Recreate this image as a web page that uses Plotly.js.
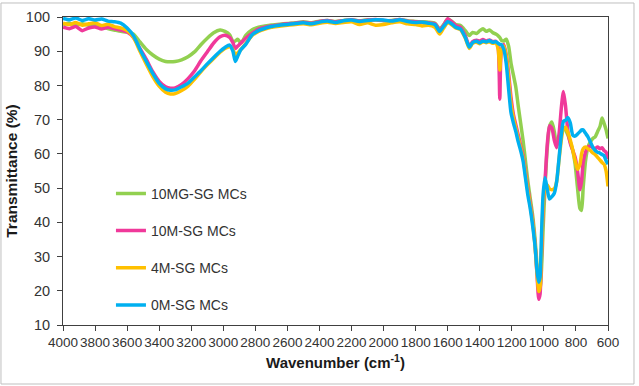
<!DOCTYPE html>
<html>
<head>
<meta charset="utf-8">
<script src="https://cdn.plot.ly/plotly-3.0.1.min.js"></script>
<style>
  html, body { margin: 0; padding: 0; background: #ffffff; }
  #chart { width: 639px; height: 386px; }
</style>
</head>
<body>
<div id="chart"></div>
<script>
// FTIR spectra of the SG microcapsule samples (wavenumber in cm-1, transmittance in %)
const wavenumber = [
  4000, 3960, 3920, 3880, 3840, 3800, 3760, 3720, 3680, 3640,
  3600, 3560, 3520, 3480, 3440, 3400, 3360, 3330, 3300, 3260,
  3220, 3180, 3140, 3100, 3060, 3020, 2990, 2960, 2940, 2925,
  2910, 2890, 2860, 2820, 2780, 2740, 2700, 2650, 2600, 2550,
  2500, 2450, 2400, 2350, 2300, 2250, 2200, 2150, 2100, 2050,
  2000, 1950, 1900, 1850, 1800, 1760, 1720, 1680, 1650, 1625,
  1600, 1580, 1550, 1520, 1490, 1465, 1445, 1420, 1400, 1380,
  1360, 1340, 1320, 1300, 1285, 1275, 1265, 1250, 1235, 1220,
  1205, 1190, 1175, 1160, 1145, 1130, 1115, 1100, 1085, 1070,
  1055, 1042, 1032, 1024, 1015, 1005, 993, 980, 965, 950,
  935, 920, 905, 890, 878, 865, 850, 835, 820, 805,
  790, 775, 765, 755, 740, 725, 710, 695, 680, 665,
  650, 637, 625, 612, 600
];

const mg10 = [
  97.8, 98.2, 97.5, 98.0, 97.6, 97.9, 97.2, 96.6, 96.2, 95.8,
  95.6, 95.0, 92.7, 90.5, 88.9, 87.7, 87.0, 86.9, 87.0, 87.5,
  88.4, 89.8, 91.9, 93.8, 95.4, 96.2, 95.8, 94.8, 92.8, 93.0,
  93.5, 92.4, 94.6, 96.3, 97.0, 97.4, 97.7, 97.9, 98.1, 98.3,
  98.6, 98.3, 98.8, 99.0, 98.7, 99.0, 99.2, 98.9, 99.2, 99.1,
  98.9, 99.0, 99.3, 98.9, 98.7, 98.6, 98.5, 98.2, 96.5, 97.8,
  99.4, 98.9, 97.8, 97.5, 96.0, 94.6, 95.5, 95.2, 96.0, 96.6,
  95.8, 96.2, 95.5, 95.0, 94.5, 94.0, 93.2, 93.0, 93.5, 91.5,
  86.5, 83.0, 79.5, 74.0, 69.0, 64.0, 58.0, 52.0, 47.0, 42.0,
  35.0, 27.0, 21.5, 20.5, 26.0, 38.0, 50.0, 61.0, 68.0, 69.3,
  66.5, 62.5, 64.0, 66.5, 67.5, 67.0, 65.5, 63.5, 61.0, 57.0,
  50.0, 44.0, 43.5, 50.0, 58.0, 62.0, 63.5, 64.5, 65.0, 66.5,
  68.0, 70.5, 69.0, 67.0, 64.5
];

const m10 = [
  97.0, 96.6, 97.2, 96.0, 96.8, 97.1, 96.5, 97.0, 96.6, 96.2,
  95.6, 94.0, 90.8, 87.6, 84.0, 81.2, 79.6, 79.2, 79.3, 80.3,
  82.0, 84.2, 87.2, 89.8, 92.4, 94.2, 94.7, 94.0, 92.5, 90.8,
  91.5, 92.4, 93.8, 95.3, 96.5, 97.0, 97.4, 97.7, 98.0, 98.2,
  98.5, 98.2, 98.7, 99.0, 98.6, 98.9, 99.2, 98.8, 99.1, 99.3,
  99.0, 98.9, 99.3, 98.8, 98.6, 98.4, 98.3, 98.0, 96.3, 97.6,
  99.5, 98.8, 97.5, 97.0, 94.5, 91.5, 92.8, 93.2, 93.0, 93.4,
  93.0, 93.3, 92.8, 92.9, 91.0, 76.0, 90.5, 92.0, 89.0, 83.5,
  76.5, 71.5, 68.5, 65.5, 62.5, 59.5, 55.0, 50.0, 45.5, 40.5,
  33.5, 24.0, 17.5, 19.0, 30.0, 44.0, 52.0, 62.0, 68.2, 67.5,
  64.0, 61.8, 66.0, 74.0, 78.2, 74.0, 66.5, 63.0, 61.0, 59.0,
  55.0, 49.5, 52.0, 57.5, 60.5, 62.0, 62.3, 61.8, 61.5, 62.0,
  61.5, 61.8, 61.0, 60.5, 58.5
];

const m4 = [
  98.2, 97.8, 98.4, 97.6, 98.0, 98.3, 97.5, 97.9, 97.2, 96.8,
  96.0, 94.0, 90.0, 86.2, 82.6, 79.8, 78.0, 77.5, 77.6, 78.5,
  79.8, 81.8, 84.0, 86.0, 87.9, 89.7, 90.8, 91.3, 90.5, 89.0,
  89.5, 90.5, 92.2, 94.6, 95.8, 96.5, 97.0, 97.3, 97.6, 97.8,
  98.0, 97.7, 98.2, 98.5, 98.1, 98.4, 98.6, 97.8, 98.3, 97.6,
  97.8, 98.3, 98.6, 98.0, 97.8, 97.4, 97.6, 97.0, 95.0, 96.8,
  98.3, 97.9, 96.8, 96.3, 93.8, 90.8, 92.3, 92.6, 92.2, 92.8,
  92.5, 92.8, 92.3, 92.5, 90.5, 84.5, 90.5, 91.5, 88.5, 82.0,
  74.5, 70.5, 67.5, 64.5, 61.8, 58.8, 54.2, 49.2, 44.8, 40.0,
  33.0, 24.5, 19.8, 21.0, 32.0, 45.0, 50.5, 51.0, 49.8, 49.5,
  49.8, 52.0, 58.5, 64.5, 67.5, 67.8, 66.2, 64.0, 61.2, 58.0,
  55.5, 57.0, 60.0, 61.5, 62.0, 61.5, 61.0, 60.3, 59.8, 59.0,
  58.2, 57.5, 57.0, 55.0, 50.5
];

const m0 = [
  99.6, 99.2, 99.7, 99.0, 99.5, 99.1, 99.4, 98.8, 98.6, 98.2,
  96.8, 94.5, 90.6, 87.0, 83.5, 80.6, 79.0, 78.6, 78.7, 79.6,
  80.7, 82.5, 84.3, 86.3, 88.2, 90.0, 91.1, 91.8, 90.0, 87.0,
  88.5, 90.5, 92.0, 94.8, 96.0, 96.7, 97.2, 97.6, 97.8, 98.1,
  98.3, 98.0, 98.5, 98.8, 98.4, 98.9, 99.1, 98.7, 99.0, 99.2,
  99.1, 98.8, 99.2, 98.7, 98.4, 98.5, 98.2, 97.8, 95.8, 97.3,
  98.6, 98.2, 97.0, 96.5, 94.0, 91.2, 92.5, 92.9, 92.4, 93.0,
  92.7, 93.1, 92.6, 92.8, 92.3, 92.0, 91.9, 90.5, 86.5, 79.0,
  72.0, 69.0, 66.5, 63.5, 61.0, 58.0, 53.0, 48.0, 44.0, 39.0,
  33.0, 25.5, 22.5, 24.0, 36.0, 48.0, 53.0, 50.0, 46.8, 47.5,
  48.5, 52.0, 59.0, 66.0, 69.5, 69.8, 70.6, 69.0, 65.5, 65.2,
  65.8, 66.5, 67.0, 67.0, 66.0, 65.0, 63.5, 62.0, 61.0, 60.5,
  60.2, 59.8, 59.5, 58.0, 57.0
];

const seriesNames = ['10MG-SG MCs', '10M-SG MCs', '4M-SG MCs', '0M-SG MCs'];
const seriesValues = [mg10, m10, m4, m0];
const seriesColors = ['#92D050', '#F0399A', '#FFC000', '#00B0F0'];

const yTicks = [10, 20, 30, 40, 50, 60, 70, 80, 90, 100];
const xTicks = [4000, 3800, 3600, 3400, 3200, 3000, 2800, 2600, 2400, 2200,
                2000, 1800, 1600, 1400, 1200, 1000, 800, 600];

const traces = seriesNames.map((name, i) => ({
  type: 'scatter',
  mode: 'lines',
  name: name,
  legendgroup: 'g' + i,
  x: wavenumber,
  y: seriesValues[i],
  line: { color: seriesColors[i], width: 3.5, shape: 'spline', smoothing: 0.6 },
  hoverinfo: 'x+y+name'
}));

const font = 'Liberation Sans, Arial, sans-serif';

const layout = {
  width: 639,
  height: 386,
  margin: { l: 63, r: 31, t: 17, b: 61 },
  paper_bgcolor: '#ffffff',
  plot_bgcolor: '#ffffff',
  font: { family: font, size: 13, color: '#333333' },
  showlegend: true,
  legend: {
    x: 0.088, y: 0.478, xanchor: 'left', yanchor: 'top',
    bgcolor: 'rgba(0,0,0,0)',
    font: { family: font, size: 14, color: '#333333' },
    tracegroupgap: 16,
    traceorder: 'grouped'
  },
  xaxis: {
    range: [4000, 600],
    tickmode: 'array',
    tickvals: xTicks,
    ticktext: xTicks.map(String),
    ticks: 'outside', ticklen: 5, tickcolor: '#404040',
    showline: true, linecolor: '#404040', linewidth: 1, mirror: true,
    showgrid: false, zeroline: false,
    tickfont: { family: font, size: 13.5, color: '#333333' },
    title: {
      text: 'Wavenumber (cm<sup>-1</sup>)',
      font: { family: font, size: 15, color: '#1a1a1a', weight: 'bold' },
      standoff: 8
    }
  },
  yaxis: {
    range: [10, 100],
    tickmode: 'array',
    tickvals: yTicks,
    // a trailing no-break space keeps the labels a little clear of the ticks
    ticktext: yTicks.map(v => v + '\u00a0'),
    ticks: 'outside', ticklen: 5, tickcolor: '#404040',
    showline: true, linecolor: '#404040', linewidth: 1, mirror: true,
    showgrid: false, zeroline: false,
    tickfont: { family: font, size: 14.5, color: '#333333' },
    title: {
      text: 'Transmittance (%)',
      font: { family: font, size: 15.5, color: '#1a1a1a', weight: 'bold' },
      standoff: 4
    }
  },
  shapes: [{
    type: 'rect', xref: 'paper', yref: 'paper',
    x0: -0.1138, x1: 1.0477, y0: -0.1916, y1: 1.0455,
    line: { color: '#bfbfbf', width: 1 },
    layer: 'below'
  }]
};

Plotly.newPlot('chart', traces, layout, { staticPlot: true, displayModeBar: false });
</script>
</body>
</html>
